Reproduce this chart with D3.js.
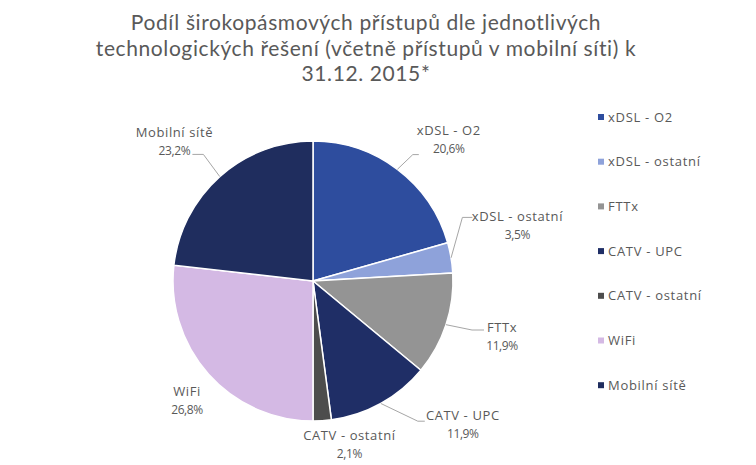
<!DOCTYPE html>
<html>
<head>
<meta charset="utf-8">
<script src="https://cdn.jsdelivr.net/npm/d3@7"></script>
<style>
  html, body { margin: 0; padding: 0; background: #fff; }
  svg { display: block; font-family: "Open Sans", "Noto Sans", sans-serif; }
</style>
</head>
<body>
<svg id="chart" width="756" height="465"></svg>
<script>
// ---- data ----
const categories = ["xDSL - O2", "xDSL - ostatní", "FTTx", "CATV - UPC", "CATV - ostatní", "WiFi", "Mobilní sítě"];
const values = [20.6, 3.5, 11.9, 11.9, 2.1, 26.8, 23.2];
const percentLabels = ["20,6%", "3,5%", "11,9%", "11,9%", "2,1%", "26,8%", "23,2%"];
const titleLines = ["Podíl širokopásmových přístupů dle jednotlivých",
                    "technologických řešení (včetně přístupů v mobilní síti) k",
                    "31.12. 2015*"];

// ---- styles / layout ----
const colors = ["#2E4D9E", "#8EA2DA", "#949494", "#1F2E66", "#4D4D4D", "#D4B9E4", "#1F2D5E"];
const textColor = "#595959";
const cx = 313, cy = 281, R = 140;
// label centre offsets from pie centre, in units of radius
const labelOffsets = [[0.97, -1.01], [1.46, -0.39], [1.35, 0.40], [1.07, 1.03], [0.26, 1.17], [-0.90, 0.86], [-0.99, -0.99]];
// leader line elbow/end offsets relative to label centre (null = no leader)
const leaders = [[[-36, 15], [-30, 15]], [[-55, -9], [-45, -9]], [[-30, -7], [-18, -7]], [[-45, -4], [-38, -4]], null, null, [[29, 12], [18, 12]]];

const svg = d3.select("#chart");

// title
svg.append("g").selectAll("text").data(titleLines).join("text")
  .attr("x", 366)
  .attr("y", (d, i) => 30 + i * 25.5)
  .attr("text-anchor", "middle")
  .attr("fill", textColor)
  .attr("font-family", "Lato, 'Open Sans', sans-serif")
  .attr("font-size", 21)
  .attr("letter-spacing", 0.6)
  .text(d => d);

const data = categories.map((c, i) => ({ name: c, value: values[i], pct: percentLabels[i], i }));
const pie = d3.pie().value(d => d.value).sort(null);
const arcs = pie(data);
const arc = d3.arc().innerRadius(0).outerRadius(R);

const g = svg.append("g").attr("transform", `translate(${cx},${cy})`);
g.selectAll("path").data(arcs).join("path")
  .attr("d", arc)
  .attr("fill", d => colors[d.data.i])
  .attr("stroke", "#fff")
  .attr("stroke-width", 1.5);

// leader lines
arcs.forEach(a => {
  const L = leaders[a.data.i];
  if (!L) return;
  const mid = (a.startAngle + a.endAngle) / 2;
  const sx = R * Math.sin(mid), sy = -R * Math.cos(mid);
  const lx = labelOffsets[a.data.i][0] * R, ly = labelOffsets[a.data.i][1] * R;
  const pts = [[sx, sy], [lx + L[0][0], ly + L[0][1]], [lx + L[1][0], ly + L[1][1]]];
  g.append("path")
    .attr("d", d3.line()(pts))
    .attr("fill", "none")
    .attr("stroke", "#A6A6A6")
    .attr("stroke-width", 1);
});

// labels
const lab = g.selectAll("g.lab").data(arcs).join("g").attr("class", "lab")
  .attr("transform", d => `translate(${labelOffsets[d.data.i][0] * R},${labelOffsets[d.data.i][1] * R})`);
lab.append("text")
  .attr("text-anchor", "middle")
  .attr("y", -5)
  .attr("fill", textColor)
  .attr("font-size", 13)
  .attr("letter-spacing", 0.6)
  .text(d => d.data.name);
lab.append("text")
  .attr("text-anchor", "middle")
  .attr("y", 13)
  .attr("fill", textColor)
  .attr("font-size", 12)
  .attr("letter-spacing", -0.4)
  .text(d => d.data.pct);

// legend
const leg = svg.append("g").selectAll("g").data(data).join("g")
  .attr("transform", (d, i) => `translate(598,${117 + i * 44.7})`);
leg.append("rect")
  .attr("x", 0).attr("y", -3).attr("width", 6).attr("height", 6)
  .attr("fill", d => colors[d.i]);
leg.append("text")
  .attr("x", 10).attr("y", 4.5)
  .attr("fill", textColor)
  .attr("font-size", 13)
  .attr("letter-spacing", 0.7)
  .text(d => d.name);
</script>
</body>
</html>
